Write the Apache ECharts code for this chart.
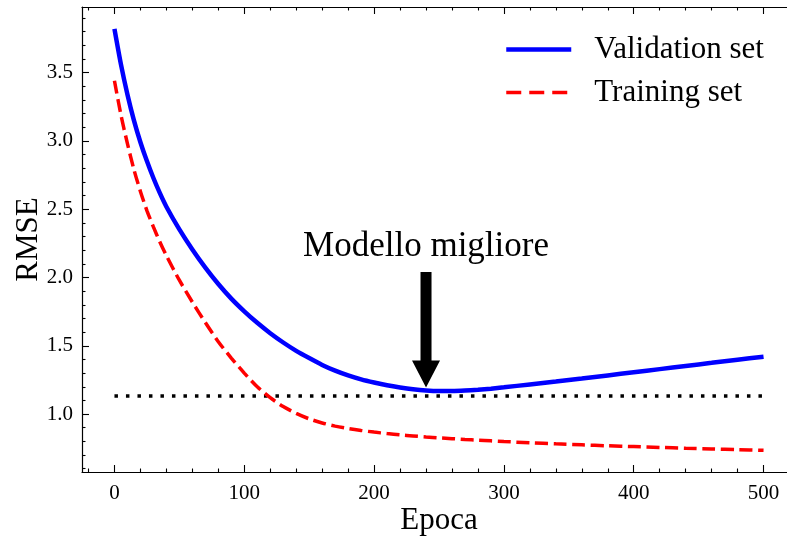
<!DOCTYPE html>
<html>
<head>
<meta charset="utf-8">
<script src="https://cdn.jsdelivr.net/npm/echarts@6/dist/echarts.min.js"></script>
<style>html,body{margin:0;padding:0;background:#fff}#c{width:787px;height:537px}</style>
</head>
<body>
<div id="c"></div>
<script>
const epochs = [0,5,10,15,20,25,30,35,40,50,60,70,80,90,100,110,120,130,140,150,160,170,180,190,200,210,220,230,240,250,260,270,280,290,300,320,340,360,380,400,420,440,460,480,500];
const validationRMSE = [3.82,3.56,3.34,3.15,2.99,2.852,2.728,2.617,2.518,2.352,2.205,2.072,1.952,1.845,1.752,1.668,1.592,1.524,1.463,1.41,1.36,1.318,1.283,1.254,1.231,1.211,1.195,1.182,1.173,1.169,1.169,1.172,1.178,1.186,1.196,1.217,1.238,1.26,1.283,1.306,1.329,1.352,1.375,1.398,1.42];
const trainingRMSE = [3.44,3.19,2.98,2.79,2.63,2.49,2.37,2.26,2.16,1.98,1.82,1.67,1.53,1.41,1.30,1.20,1.12,1.055,1.005,0.965,0.935,0.912,0.894,0.88,0.868,0.857,0.848,0.84,0.832,0.826,0.82,0.814,0.809,0.804,0.799,0.79,0.782,0.775,0.768,0.762,0.756,0.75,0.745,0.74,0.735];
const bestLevel = 1.132;
const bestRange = [0, 500];
const annotationEpoch = 240;
const arrowTail = 2.04;
const arrowTip = 1.195;
const annotationY = 2.225;
const annotationText = 'Modello migliore';
const seriesNames = ['Validation set', 'Training set'];
const xTicks = [0,100,200,300,400,500];
const xMinorTicks = [-20,20,40,60,80,120,140,160,180,220,240,260,280,320,340,360,380,420,440,460,480,520];
const yTicks = [1.0,1.5,2.0,2.5,3.0,3.5];
const yMinorTicks = [0.6,0.7,0.8,0.9,1.1,1.2,1.3,1.4,1.6,1.7,1.8,1.9,2.1,2.2,2.3,2.4,2.6,2.7,2.8,2.9,3.1,3.2,3.3,3.4,3.6,3.7,3.8,3.9];
const xRange = [-25, 525];
const yRange = [0.576, 3.98];

const FONT = '"Liberation Serif", "Times New Roman", serif';
const zip = (a, b) => a.map((v, i) => [v, b[i]]);

function xAxisDef(pos, ticks, len, labels, line) {
  return {
    type: 'value', position: pos, min: xRange[0], max: xRange[1],
    axisLine: {show: line, onZero: false, lineStyle: {color: '#000', width: 1.2}},
    axisTick: {show: true, inside: true, length: len, customValues: ticks, lineStyle: {color: '#000', width: 1.1}},
    axisLabel: labels ? {show: true, customValues: ticks, margin: 11, fontFamily: FONT, fontSize: 21, color: '#000', formatter: v => String(v)} : {show: false},
    splitLine: {show: false}
  };
}
function yAxisDef(pos, ticks, len, labels, line) {
  return {
    type: 'value', position: pos, min: yRange[0], max: yRange[1],
    axisLine: {show: line, onZero: false, lineStyle: {color: '#000', width: 1.2}},
    axisTick: {show: true, inside: true, length: len, customValues: ticks, lineStyle: {color: '#000', width: 1.1}},
    axisLabel: labels ? {show: true, customValues: ticks, margin: 9, fontFamily: FONT, fontSize: 21, color: '#000', formatter: v => v.toFixed(1)} : {show: false},
    splitLine: {show: false}
  };
}

const xAxes = [
  Object.assign(xAxisDef('bottom', xTicks, 7, true, true), {name: 'Epoca', nameLocation: 'middle', nameGap: 33, nameMoveOverlap: false, nameTextStyle: {fontFamily: FONT, fontSize: 31, color: '#000'}}),
  xAxisDef('bottom', xMinorTicks, 3.5, false, false),
  xAxisDef('top', xTicks, 7, false, true),
  xAxisDef('top', xMinorTicks, 3.5, false, false)
];
const yAxes = [
  Object.assign(yAxisDef('left', yTicks, 7, true, true), {name: 'RMSE', nameLocation: 'middle', nameGap: 38, nameRotate: 90, nameMoveOverlap: false, nameTextStyle: {fontFamily: FONT, fontSize: 31, color: '#000'}}),
  yAxisDef('left', yMinorTicks, 3.5, false, false),
  yAxisDef('right', yTicks, 7, false, true),
  yAxisDef('right', yMinorTicks, 3.5, false, false)
];

const chart = echarts.init(document.getElementById('c'), null, {renderer: 'canvas'});
chart.setOption({
  animation: false,
  backgroundColor: '#fff',
  grid: {left: 82, top: 7, bottom: 65, right: -9, containLabel: false, outerBoundsMode: 'none'},
  xAxis: xAxes,
  yAxis: yAxes,
  legend: {
    data: [
      {name: seriesNames[0], lineStyle: {width: 4.5}, itemStyle: {opacity: 0}},
      {name: seriesNames[1], lineStyle: {width: 3.5, type: [15, 8]}, itemStyle: {opacity: 0}}
    ],
    orient: 'vertical',
    left: 504, top: 34, padding: 0,
    itemWidth: 65, itemHeight: 4, itemGap: 12,
    textStyle: {fontFamily: FONT, fontSize: 31, color: '#000', padding: [0, 0, 0, 18]}
  },
  series: [
    {
      name: seriesNames[0], type: 'line', symbol: 'none', smooth: 0.25,
      data: zip(epochs, validationRMSE),
      lineStyle: {color: '#0000ff', width: 4.5}, itemStyle: {color: '#0000ff'}, z: 3
    },
    {
      name: seriesNames[1], type: 'line', symbol: 'none', smooth: 0.25,
      data: zip(epochs, trainingRMSE),
      lineStyle: {color: '#ff0000', width: 3.5, type: [13, 5.6]}, itemStyle: {color: '#ff0000'}, z: 3
    },
    {
      name: 'best', type: 'line', symbol: 'none',
      data: bestRange.map(x => [x, bestLevel]),
      lineStyle: {color: '#000', width: 3.5, type: [3.5, 8]}, z: 2, silent: true
    },
    {
      name: 'annotation', type: 'custom',
      data: [[annotationEpoch, arrowTail, arrowTip, annotationY]],
      z: 4,
      renderItem: function (params, api) {
        const tail = api.coord([api.value(0), api.value(1)]);
        const tip = api.coord([api.value(0), api.value(2)]);
        const lab = api.coord([api.value(0), api.value(3)]);
        const sw = 5.5, hw = 14, hh = 27, cx = tip[0];
        return {
          type: 'group',
          children: [
            {type: 'polygon', shape: {points: [
              [cx - sw, tail[1]], [cx + sw, tail[1]], [cx + sw, tip[1] - hh], [cx + hw, tip[1] - hh],
              [cx, tip[1]], [cx - hw, tip[1] - hh], [cx - sw, tip[1] - hh]]},
              style: {fill: '#000'}},
            {type: 'text', x: lab[0], y: lab[1], style: {text: annotationText, fontFamily: FONT, fontSize: 35, fill: '#000', align: 'center', verticalAlign: 'middle'}}
          ]
        };
      }
    }
  ]
});
</script>
</body>
</html>
